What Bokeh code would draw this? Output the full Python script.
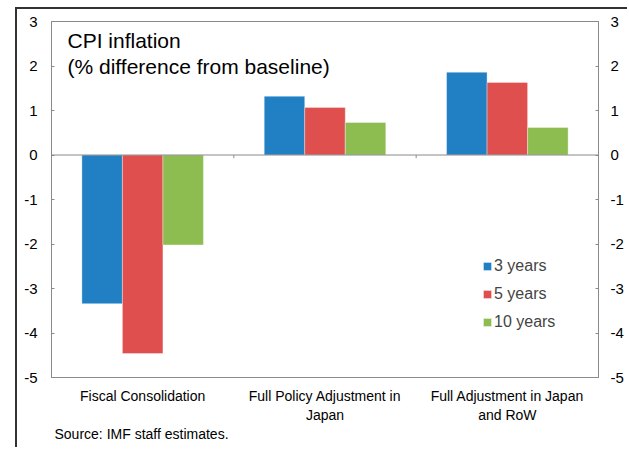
from bokeh.plotting import figure
from bokeh.models import (Range1d, LinearAxis, FixedTicker, Span, Label, Legend,
                          LegendItem, ColumnDataSource, Title)
from bokeh.embed import file_html
from bokeh.resources import INLINE

categories = ["Fiscal Consolidation", "Full Policy Adjustment in\nJapan",
              "Full Adjustment in Japan\nand RoW"]
series_names = ["3 years", "5 years", "10 years"]
values_3y = [-3.34, 1.32, 1.86]
values_5y = [-4.46, 1.07, 1.63]
values_10y = [-2.02, 0.73, 0.62]
y_ticks = [-5, -4, -3, -2, -1, 0, 1, 2, 3]

colors = ["#2180C3", "#DE4F4E", "#8DBD50"]
FONT = "Liberation Sans"
GRAY = "#8a8a8a"

W, H = 612, 440
p = figure(width=W, height=H, output_backend="svg", toolbar_location=None,
           x_range=Range1d(0, len(categories)), y_range=Range1d(-5, 3),
           min_border_left=34, min_border_right=31, min_border_top=12,
           min_border_bottom=72, y_axis_location=None)
# outer frame: dark rule on top and left of the chart box
p.styles = {"margin-left": "17px", "margin-top": "9px",
            "box-shadow": "-2px -2px 0px 0px #333333"}
p.grid.visible = False
p.background_fill_color = "white"
p.border_fill_color = "white"
p.outline_line_color = GRAY
p.outline_line_width = 1

# bars
group = 2.0 / 3.0
bw = group / len(series_names)
all_vals = [values_3y, values_5y, values_10y]
renderers = []
for k, (vals, col) in enumerate(zip(all_vals, colors)):
    xs = [i + 0.5 + (k - 1) * bw for i in range(len(categories))]
    src = ColumnDataSource(dict(x=xs, top=vals))
    r = p.vbar(x="x", top="top", bottom=0, width=bw, source=src,
               fill_color=col, line_color="white", line_alpha=0.35, line_width=1)
    renderers.append(r)

# zero line and category separators
p.add_layout(Span(location=0, dimension="width", line_color=GRAY, line_width=1))
seps = list(range(1, len(categories)))
p.segment(x0=seps, x1=seps, y0=[0] * len(seps), y1=[-0.07] * len(seps),
          line_color=GRAY, line_width=1)

# x axis (labels only)
xa = p.xaxis[0]
xa.ticker = FixedTicker(ticks=[i + 0.5 for i in range(len(categories))])
xa.major_label_overrides = {i + 0.5: c for i, c in enumerate(categories)}
xa.axis_line_color = None
xa.major_tick_line_color = None
xa.major_tick_out = 0
xa.major_tick_in = 0
xa.minor_tick_line_color = None
xa.major_label_text_font = FONT
xa.major_label_text_font_size = "14px"
xa.major_label_text_color = "black"
xa.major_label_standoff = 10

# source line below the axis
p.add_layout(Title(text="Source: IMF staff estimates.", align="left", offset=3,
                   text_font=FONT, text_font_size="14px", text_font_style="normal",
                   text_color="black", standoff=-3), "below")

# y axes both sides
for side, standoff in [("left", 14), ("right", 12)]:
    ax = LinearAxis(ticker=FixedTicker(ticks=y_ticks))
    ax.major_label_overrides = {t: str(t) for t in y_ticks}
    ax.axis_line_color = GRAY
    ax.major_tick_line_color = GRAY
    ax.major_tick_in = 3
    ax.major_tick_out = 0
    ax.minor_tick_line_color = None
    ax.major_label_text_font = FONT
    ax.major_label_text_font_size = "15px"
    ax.major_label_text_color = "black"
    ax.major_label_standoff = standoff
    p.add_layout(ax, side)

# title inside plot
p.add_layout(Label(x=16, y=337, x_units="screen", y_units="screen",
                   text="CPI inflation", text_font=FONT, text_font_size="21px",
                   text_baseline="alphabetic", text_color="black"))
p.add_layout(Label(x=16, y=311, x_units="screen", y_units="screen",
                   text="(% difference from baseline)", text_font=FONT,
                   text_font_size="21px", text_baseline="alphabetic",
                   text_color="black"))

# legend
legend = Legend(items=[LegendItem(label=n, renderers=[r]) for n, r in zip(series_names, renderers)],
                location=(431, 46), orientation="vertical",
                glyph_width=10, glyph_height=10, label_standoff=2,
                label_text_font=FONT, label_text_font_size="16px",
                label_height=18, spacing=10, padding=0, margin=0,
                border_line_color=None, background_fill_alpha=0)
p.add_layout(legend)

open("out.html", "w").write(file_html(p, INLINE))
